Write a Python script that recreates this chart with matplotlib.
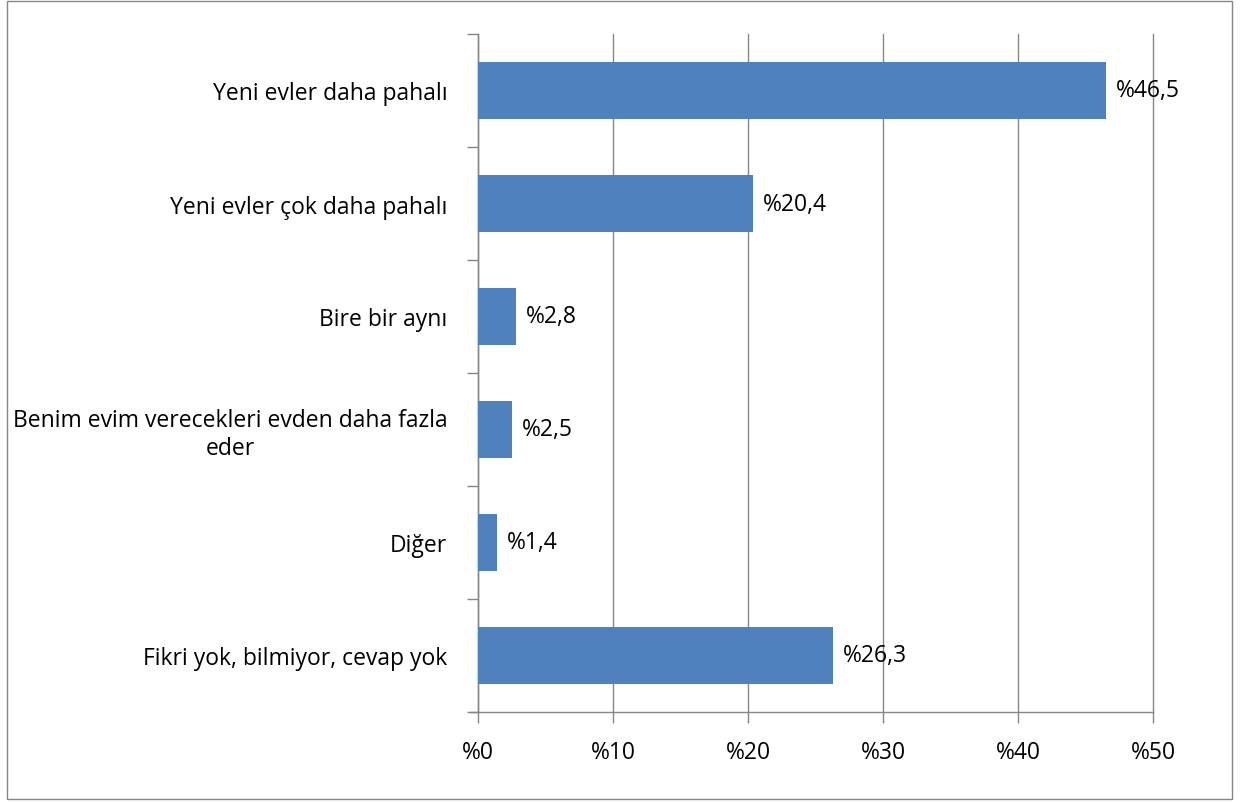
import matplotlib.pyplot as plt
from matplotlib.patches import Rectangle

# survey answers, top to bottom
categories = [
    "Yeni evler daha pahalı",
    "Yeni evler çok daha pahalı",
    "Bire bir aynı",
    "Benim evim verecekleri evden daha fazla\neder",
    "Diğer",
    "Fikri yok, bilmiyor, cevap yok",
]
values = [46.5, 20.4, 2.8, 2.5, 1.4, 26.3]
value_labels = ["%46,5", "%20,4", "%2,8", "%2,5", "%1,4", "%26,3"]
x_ticks = [0, 10, 20, 30, 40, 50]
x_tick_labels = ["%0", "%10", "%20", "%30", "%40", "%50"]

plt.rcParams['font.family'] = ['Open Sans', 'DejaVu Sans']
axis_gray = '#868686'
bar_color = '#4F81BD'
fs = 16.5

fig = plt.figure(figsize=(12.49, 8.03), dpi=100)
W, H = 1249, 803
ax = fig.add_axes([478 / W, 1 - 713 / H, (1153 - 478) / W, (713 - 35) / H])

# outer chart border
fig.patches.append(Rectangle((7 / W, 1 - 800 / H), (1232 - 7) / W, (800 - 2) / H,
                             transform=fig.transFigure, fill=False,
                             edgecolor=axis_gray, linewidth=1))

pos = list(range(len(categories)))
ax.barh(pos, values, height=0.5, color=bar_color, zorder=3)

for p, v, lab in zip(pos, values, value_labels):
    ax.annotate(lab, (v, p), xytext=(7, 0), textcoords='offset points',
                ha='left', va='center', fontsize=fs, color='black', zorder=4)

ax.set_xlim(0, 50)
ax.set_ylim(len(categories) - 0.5, -0.5)
ax.set_xticks(x_ticks)
ax.set_xticklabels(x_tick_labels, fontsize=fs)
ax.set_yticks(pos)
ax.set_yticklabels(categories, fontsize=fs, multialignment='center')
ax.set_yticks([p - 0.5 for p in pos] + [len(categories) - 0.5], minor=True)

ax.tick_params(axis='y', which='major', length=0, pad=22)
ax.tick_params(axis='y', which='minor', length=8, color=axis_gray, width=1)
ax.tick_params(axis='x', which='major', length=8, color=axis_gray, width=1, pad=12)

for gl in ax.get_xgridlines():
    gl.set_clip_on(False)
ax.grid(axis='x', color=axis_gray, linewidth=1, zorder=0)
for gl in ax.get_xgridlines():
    gl.set_clip_on(False)
ax.set_axisbelow(True)
for s in ['top', 'right']:
    ax.spines[s].set_visible(False)
for s in ['left', 'bottom']:
    ax.spines[s].set_color(axis_gray)
    ax.spines[s].set_linewidth(1)
ax.spines['bottom'].set_bounds(-0.6, 50)

fig.savefig('out.png', dpi=100)
